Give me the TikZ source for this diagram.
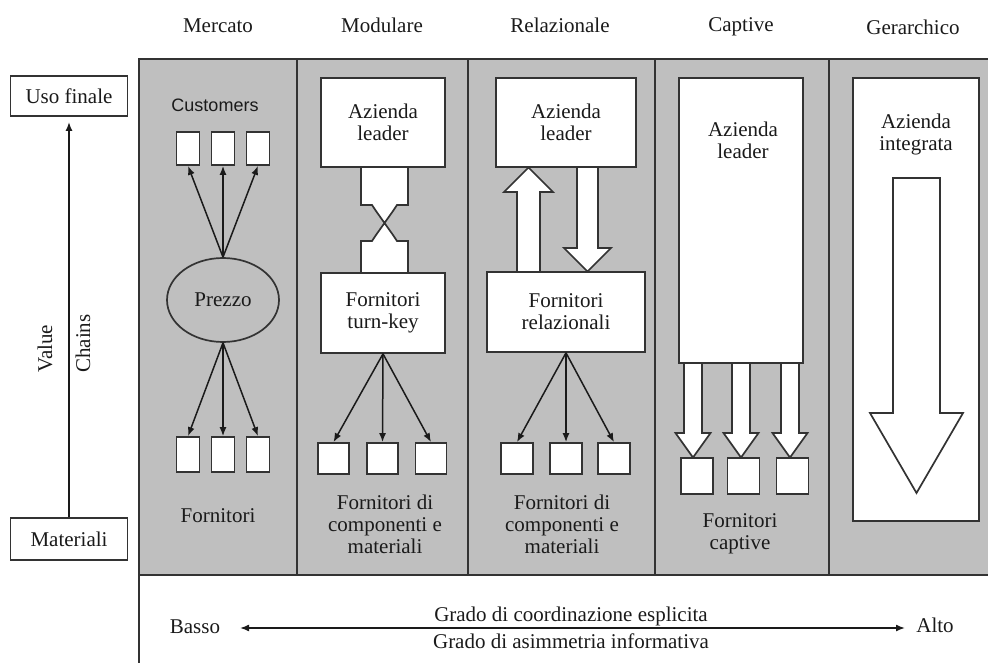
\documentclass[tikz,border=0pt]{standalone}
\usepackage{fontspec}
\setmainfont{Liberation Serif}
\newfontfamily\custfont{Liberation Sans}
\usetikzlibrary{positioning,arrows.meta,shapes.geometric}
\definecolor{cpanel}{HTML}{BFBFBF}
\definecolor{cline}{HTML}{333333}
\definecolor{cink}{HTML}{1A1A1A}
% open hollow arrow: centre x, start y, head y, tip y, half shaft, half head
\newcommand{\hollowarrow}[6]{%
  \draw[hollow] (#1-#5,#2) -- (#1-#5,#3) -- (#1-#6,#3) -- (#1,#4)
    -- (#1+#6,#3) -- (#1+#5,#3) -- (#1+#5,#2);}

\begin{document}
\begin{tikzpicture}[x=1pt, y=-1pt,
    every node/.style={font=\fontsize{21}{22}\selectfont, text=cink, align=center, inner sep=0pt},
    box/.style={draw=cline, line width=1.7pt, fill=white},
    hollow/.style={draw=cline, line width=1.7pt, fill=white, line join=miter},
    frame/.style={draw=cline, line width=1.9pt},
    flow/.style={draw=cink, line width=1.5pt, -{Latex[length=9pt,width=7pt]}}]
  \useasboundingbox (0,0) rectangle (988,663);
  \clip (0,0) rectangle (988,663);

  % panel and columns
  \fill[cpanel] (139,59) rectangle (1000,575);
  \draw[frame] (139,663) -- (139,59) -- (1000,59);
  \draw[frame] (139,575) -- (1000,575);
  \foreach \xd in {297,468,655,829} \draw[frame] (\xd,59) -- (\xd,575);

  \node[anchor=base] (tmercato) at (218,33) {Mercato};
  \node[anchor=base] (tmodulare) at (382,33) {Modulare};
  \node[anchor=base] (trelazionale) at (560,33) {Relazionale};
  \node[anchor=base] (tcaptive) at (741,32) {Captive};
  \node[anchor=base] (tgerarchico) at (913,35) {Gerarchico};

  % value chain axis
  \node[box, minimum width=117, minimum height=40] (usofinale) at (69,96) {Uso finale};
  \node[box, minimum width=117, minimum height=42] (materiali) at (69,539) {Materiali};
  \draw[cink, line width=2.6pt, -{Latex[length=9pt,width=7pt]}, shorten >=5pt] (materiali) -- (usofinale);
  \node[rotate=90, anchor=west] (value) at (45,373) {Value};
  \node[rotate=90, anchor=west] (chains) at (83,373) {Chains};

  % Mercato
  \node[anchor=base, font=\custfont\fontsize{18}{20}\selectfont] (customers) at (215,112) {Customers};
  \node[draw=cline, line width=1.7pt, fill=cpanel, ellipse, minimum width=112, minimum height=84] (prezzo) at (223,300) {Prezzo};
  \foreach \i/\xc in {1/188,2/223,3/258} {
    \node[box, minimum width=23, minimum height=33] (cust\i) at (\xc,148.5) {};
    \node[box, minimum width=23, minimum height=35] (forn\i) at (\xc,454.5) {};
    \draw[flow] (prezzo.north) -- (cust\i.south);
    \draw[flow] (prezzo.south) -- (forn\i.north);
  }
  \node[anchor=base] (lmercato) at (218,522) {Fornitori};

  % Modulare
  \draw[hollow] (361,160) -- (361,205) -- (372,205) -- (376,211) -- (384.5,223) -- (393,211) -- (397,205) -- (408,205) -- (408,160);
  \draw[hollow] (361,280) -- (361,241) -- (372,241) -- (376,235) -- (384.5,223) -- (393,235) -- (397,241) -- (408,241) -- (408,280);
  \node[box, minimum width=124, minimum height=89] (leadermod) at (383,122.5) {Azienda\\leader};
  \node[box, minimum width=124, minimum height=80] (turnkey) at (383,313) {Fornitori\\turn-key};
  \foreach \i/\xc in {1/333.5,2/382.5,3/431} {
    \node[box, minimum width=31, minimum height=31] (mod\i) at (\xc,458.5) {};
    \draw[flow] (turnkey.south) -- (mod\i.north);
  }
  \node (lmodulare) at (385,524.5) {Fornitori di\\componenti e\\materiali};

  % Relazionale
  \hollowarrow{528.5}{280}{192}{167.5}{11.5}{24.5}
  \hollowarrow{587.5}{160}{248}{271.5}{10.5}{23.5}
  \node[box, minimum width=140, minimum height=89] (leaderrel) at (566,122.5) {Azienda\\leader};
  \node[box, minimum width=158, minimum height=80] (fornrel) at (566,312) {Fornitori\\relazionali};
  \foreach \i/\xc in {1/517,2/566,3/614} {
    \node[box, minimum width=32, minimum height=31] (rel\i) at (\xc,458.5) {};
    \draw[flow] (fornrel.south) -- (rel\i.north);
  }
  \node (lrelazionale) at (562,524.5) {Fornitori di\\componenti e\\materiali};

  % Captive
  \foreach \xc in {693,741,790} {\hollowarrow{\xc}{355}{433}{457.5}{9}{17.5}}
  \node[box, minimum width=124, minimum height=285] (leadercap) at (741,220.5) {};
  \node (tleadercap) at (743,140.5) {Azienda\\leader};
  \foreach \i/\xc in {1/697,2/743.5,3/792.5}
    \node[box, minimum width=32, minimum height=36] (cap\i) at (\xc,476) {};
  \node (lcaptive) at (740,534) {Fornitori\\captive};

  % Gerarchico
  \node[box, minimum width=126, minimum height=443] (integrata) at (916,299.5) {};
  \node (tintegrata) at (916,134) {Azienda\\integrata};
  \draw[hollow] (893,178) -- (893,413) -- (870,413) -- (916.5,493) -- (963,413) -- (940,413) -- (940,178) -- cycle;

  % coordination axis
  \node[anchor=base] (basso) at (195,633) {Basso};
  \node[anchor=base] (alto) at (935,632) {Alto};
  \coordinate (axl) at (240,628);
  \coordinate (axr) at (905,628);
  \draw[cink, line width=1.5pt, {Latex[length=9pt,width=7pt]}-{Latex[length=9pt,width=7pt]}] (axl) -- (axr);
  \node[anchor=base] (coord) at (571,621) {Grado di coordinazione esplicita};
  \node[anchor=base] (asimm) at (571,648) {Grado di asimmetria informativa};
\end{tikzpicture}
\end{document}
